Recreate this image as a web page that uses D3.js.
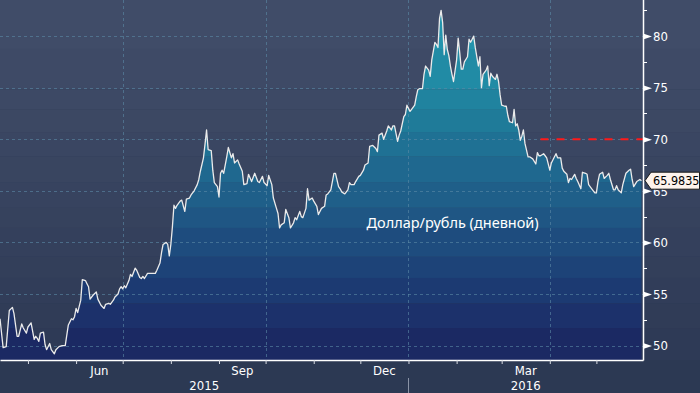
<!DOCTYPE html>
<html><head><meta charset="utf-8">
<script src="https://cdn.jsdelivr.net/npm/d3@7"></script>
<style>
html,body{margin:0;padding:0;background:#2c3953;}
svg{display:block;}
</style></head><body>
<svg id="chart" width="700" height="393"></svg>
<script>
// ---------- DATA ----------
const dates = [
"2015-04-13","2015-04-15","2015-04-17","2015-04-19","2015-04-21","2015-04-22","2015-04-24","2015-04-25","2015-04-27","2015-04-28",
"2015-04-30","2015-05-01","2015-05-03","2015-05-05","2015-05-06","2015-05-07","2015-05-08","2015-05-09","2015-05-11","2015-05-12",
"2015-05-13","2015-05-15","2015-05-16","2015-05-18","2015-05-19","2015-05-21","2015-05-23","2015-05-25","2015-05-27","2015-05-29",
"2015-05-30","2015-05-31","2015-06-01","2015-06-02","2015-06-04","2015-06-05","2015-06-07","2015-06-08","2015-06-09","2015-06-10",
"2015-06-12","2015-06-14","2015-06-15","2015-06-17","2015-06-19","2015-06-20","2015-06-22","2015-06-23","2015-06-25","2015-06-26",
"2015-06-28","2015-06-29","2015-06-30","2015-07-01","2015-07-02","2015-07-03","2015-07-05","2015-07-06","2015-07-07","2015-07-09",
"2015-07-10","2015-07-12","2015-07-13","2015-07-14","2015-07-15","2015-07-17","2015-07-19","2015-07-22","2015-07-23","2015-07-25",
"2015-07-26","2015-07-27","2015-07-29","2015-07-30","2015-07-31","2015-08-01","2015-08-02","2015-08-03","2015-08-04","2015-08-05",
"2015-08-07","2015-08-08","2015-08-10","2015-08-11","2015-08-13","2015-08-14","2015-08-16","2015-08-18","2015-08-19","2015-08-20",
"2015-08-22","2015-08-23","2015-08-24","2015-08-25","2015-08-27","2015-08-28","2015-08-29","2015-08-31","2015-09-01","2015-09-02",
"2015-09-03","2015-09-04","2015-09-06","2015-09-07","2015-09-09","2015-09-10","2015-09-11","2015-09-13","2015-09-14","2015-09-16",
"2015-09-17","2015-09-19","2015-09-20","2015-09-22","2015-09-24","2015-09-26","2015-09-27","2015-09-29","2015-09-30","2015-10-02",
"2015-10-03","2015-10-05","2015-10-06","2015-10-08","2015-10-09","2015-10-10","2015-10-11","2015-10-13","2015-10-14","2015-10-16",
"2015-10-17","2015-10-19","2015-10-20","2015-10-21","2015-10-23","2015-10-24","2015-10-25","2015-10-27","2015-10-28","2015-10-29",
"2015-10-31","2015-11-01","2015-11-03","2015-11-04","2015-11-06","2015-11-08","2015-11-09","2015-11-10","2015-11-12","2015-11-13",
"2015-11-14","2015-11-15","2015-11-17","2015-11-18","2015-11-19","2015-11-21","2015-11-23","2015-11-24","2015-11-25","2015-11-27",
"2015-11-28","2015-11-30","2015-12-01","2015-12-03","2015-12-04","2015-12-06","2015-12-07","2015-12-09","2015-12-11","2015-12-12",
"2015-12-13","2015-12-15","2015-12-16","2015-12-18","2015-12-19","2015-12-21","2015-12-22","2015-12-23","2015-12-25","2015-12-26",
"2015-12-27","2015-12-29","2015-12-30","2015-12-31","2016-01-02","2016-01-03","2016-01-05","2016-01-06","2016-01-07","2016-01-08",
"2016-01-10","2016-01-11","2016-01-12","2016-01-14","2016-01-15","2016-01-16","2016-01-18","2016-01-19","2016-01-20","2016-01-21",
"2016-01-22","2016-01-23","2016-01-24","2016-01-25","2016-01-26","2016-01-27","2016-01-28","2016-01-29","2016-01-30","2016-02-01",
"2016-02-02","2016-02-03","2016-02-04","2016-02-05","2016-02-06","2016-02-08","2016-02-09","2016-02-10","2016-02-11","2016-02-12",
"2016-02-13","2016-02-15","2016-02-16","2016-02-17","2016-02-18","2016-02-20","2016-02-21","2016-02-22","2016-02-23","2016-02-24",
"2016-02-26","2016-02-27","2016-02-28","2016-02-29","2016-03-01","2016-03-03","2016-03-04","2016-03-05","2016-03-06","2016-03-08",
"2016-03-09","2016-03-10","2016-03-11","2016-03-12","2016-03-13","2016-03-14","2016-03-15","2016-03-16","2016-03-18","2016-03-19",
"2016-03-21","2016-03-23","2016-03-24","2016-03-25","2016-03-26","2016-03-28","2016-03-29","2016-03-30","2016-04-01","2016-04-02",
"2016-04-04","2016-04-05","2016-04-06","2016-04-08","2016-04-09","2016-04-10","2016-04-12","2016-04-13","2016-04-14","2016-04-15",
"2016-04-17","2016-04-18","2016-04-19","2016-04-21","2016-04-22","2016-04-24","2016-04-25","2016-04-26","2016-04-28","2016-04-30",
"2016-05-01","2016-05-02","2016-05-03","2016-05-05","2016-05-06","2016-05-08","2016-05-09","2016-05-10","2016-05-12","2016-05-13",
"2016-05-14","2016-05-15","2016-05-17","2016-05-18","2016-05-20","2016-05-22","2016-05-23","2016-05-24","2016-05-25","2016-05-27",
"2016-05-29","2016-05-30"
];
const values = [
52.6,49.8,49.9,53.4,53.7,53.1,50.9,50.9,52.1,51.7,
51.2,51.8,52.2,50.6,50.9,50.7,50.4,51.2,51.3,50.1,
49.6,50.2,49.6,49.2,49.6,49.9,50.0,50.0,52.0,52.6,
52.5,52.8,53.6,53.2,54.4,56.4,56.3,56.0,55.7,54.5,
54.9,55.2,54.5,53.9,53.6,54.0,54.1,54.0,54.4,54.7,
55.0,55.5,55.7,55.5,55.8,55.6,56.3,56.9,56.7,57.5,
57.3,56.6,56.5,56.7,56.5,57.0,57.0,57.0,57.3,58.0,
59.0,59.8,60.0,59.8,58.7,59.8,61.5,63.6,63.3,63.6,
64.0,64.1,63.0,64.2,64.3,64.6,65.0,65.6,66.1,66.9,
68.2,69.5,70.9,69.0,68.9,67.0,65.8,65.4,64.4,66.7,
67.0,66.7,68.3,69.2,68.2,68.6,67.7,68.0,67.6,66.9,
65.6,65.7,66.6,65.9,66.7,65.9,65.8,66.4,65.8,65.5,
66.5,65.6,64.3,63.3,62.8,61.4,61.7,61.9,63.2,62.4,
61.4,61.9,62.4,62.2,63.0,62.5,62.4,63.3,65.2,64.1,
64.3,64.0,63.5,62.7,63.3,63.5,64.6,64.7,65.1,65.9,
66.7,66.7,65.4,65.2,64.9,64.7,65.1,65.8,65.6,65.6,
65.9,66.4,66.5,67.0,67.5,67.7,69.3,69.4,69.1,68.8,
70.4,70.6,70.0,70.8,71.3,70.9,71.3,71.3,69.8,70.4,
70.8,72.2,72.4,73.3,72.7,72.9,73.3,74.1,74.8,74.9,
74.9,76.3,77.1,76.7,76.1,77.7,79.4,79.2,78.9,81.7,
82.5,81.3,78.2,80.1,78.7,78.1,77.1,76.3,75.6,77.7,
79.8,78.4,76.8,76.8,77.5,78.0,79.7,79.4,79.7,80.0,
78.9,77.1,78.0,75.0,76.3,76.7,77.1,75.2,76.4,76.1,
75.8,76.3,75.6,74.3,73.3,73.2,73.2,72.3,71.7,71.6,
72.9,71.3,71.5,70.9,69.9,70.3,70.9,69.6,68.3,68.3,
68.1,67.6,68.7,68.4,68.4,68.6,68.4,68.2,67.0,67.7,
68.3,68.6,68.2,68.2,67.2,66.9,66.6,65.8,66.2,66.1,
66.6,66.2,65.9,65.2,66.8,66.7,66.6,65.6,65.2,64.8,
64.8,65.9,66.6,66.8,66.2,66.5,66.7,66.1,65.1,65.1,
65.5,65.1,64.8,65.6,66.7,67.0,67.1,66.1,65.4,65.9,
66.1,65.9835
];
const yTicks = [50, 55, 60, 65, 70, 75, 80];
const yMinorTicks = [52.5, 57.5, 62.5, 67.5, 72.5, 77.5, 82.5];
const monthLabelDates = ["2015-06-01", "2015-09-01", "2015-12-01", "2016-03-01"];
const monthLabelNames = ["Jun", "Sep", "Dec", "Mar"];
const yearLabels = ["2015", "2016"];
const gridDates = ["2015-07-01", "2015-10-01", "2016-01-01", "2016-04-01"];
const lastValueText = "65.9835";
const refLevel = 70;
const refStartDate = "2016-03-26";
const seriesTitle = "Доллар/рубль (дневной)";

// ---------- STYLE ----------
const W = 700, H = 393, PW = 643, PH = 360;
const bandLevels = [78.75, 74.8, 72.85, 70.7, 68.3, 65.85, 63.35, 61.4, 58.6, 56.55, 54.1, 51.7];
const areaColors = ["#2393ac","#218ba5","#20839f","#1f7b99","#1f7194","#1f688f","#1f5f89","#1f5684","#1e4c7e","#1d4378","#1c3a72","#1c316b","#1b2963"];
const bgColors = ["#404c68","#3e4a66","#3d4965","#3c4863","#3a4662","#394560","#37435f","#36425d","#34405c","#333f5a","#313d59","#303c57","#2e3a56"];
const TICK_FONT = "'Liberation Sans Narrow','DejaVu Sans Condensed',sans-serif";

const parse = d3.timeParse("%Y-%m-%d");
const data = dates.map((d, i) => ({ date: parse(d), value: values[i] }));

const svg = d3.select("#chart");
const x = d3.scaleTime().domain([parse("2015-04-13"), parse("2016-05-31")]).range([0, PW]);
const y = d3.scaleLinear().domain([48.6, 83.5]).range([PH, 0]);

// background
svg.append("rect").attr("width", W).attr("height", H).attr("fill", "#2c3953");
const edges = [y.domain()[1], ...bandLevels, y.domain()[0]];
const bands = d3.range(edges.length - 1).map(i => ({ top: edges[i], bot: edges[i + 1], i }));
svg.append("g").selectAll("rect").data(bands).join("rect")
  .attr("x", 0).attr("width", W)
  .attr("y", d => y(d.top)).attr("height", d => y(d.bot) - y(d.top))
  .attr("fill", d => bgColors[d.i]);

// area with banded fill
const area = d3.area().x(d => x(d.date)).y0(PH).y1(d => y(d.value));
svg.append("clipPath").attr("id", "areaClip").append("path").datum(data).attr("d", area);
svg.append("g").attr("clip-path", "url(#areaClip)").selectAll("rect").data(bands).join("rect")
  .attr("x", 0).attr("width", PW)
  .attr("y", d => y(d.top)).attr("height", d => y(d.bot) - y(d.top))
  .attr("fill", d => areaColors[d.i]);

// grid
const grid = svg.append("g").attr("stroke", "#5b8aa6").attr("stroke-opacity", 0.6)
  .attr("stroke-dasharray", "3,3").attr("stroke-width", 1);
grid.selectAll("line.h").data(yTicks).join("line").attr("class", "h")
  .attr("x1", 0).attr("x2", PW).attr("y1", d => Math.round(y(d)) + 0.5).attr("y2", d => Math.round(y(d)) + 0.5);
grid.selectAll("line.v").data(gridDates.map(parse)).join("line").attr("class", "v")
  .attr("y1", 0).attr("y2", PH).attr("x1", d => Math.round(x(d)) + 0.5).attr("x2", d => Math.round(x(d)) + 0.5);

// line
svg.append("path").datum(data)
  .attr("fill", "none").attr("stroke", "#ebebeb").attr("stroke-width", 1.3).attr("stroke-linejoin", "round")
  .attr("d", d3.line().x(d => x(d.date)).y(d => y(d.value)));

// reference line
svg.append("line")
  .attr("x1", x(parse(refStartDate))).attr("x2", PW)
  .attr("y1", y(refLevel)).attr("y2", y(refLevel))
  .attr("stroke", "#ff1a1a").attr("stroke-width", 2).attr("stroke-dasharray", "8,8");

// series title
svg.append("text").attr("x", x(parse("2015-12-05"))).attr("y", 228)
  .attr("fill", "#ffffff").attr("font-family", "'Noto Sans',sans-serif").attr("font-size", 14.5)
  .text(seriesTitle);

// bottom axis
const xAxis = d3.axisBottom(x).ticks(d3.timeMonth.every(1)).tickSize(4).tickSizeOuter(0).tickFormat("");
const gx = svg.append("g").attr("transform", `translate(0,${PH})`).call(xAxis);
gx.select(".domain").attr("stroke", "#ffffff").attr("stroke-width", 1.5);
gx.selectAll(".tick line").attr("stroke", "#d8dbe2");

svg.append("g").selectAll("text").data(monthLabelDates).join("text")
  .attr("x", d => { const s = parse(d); return (x(s) + x(d3.timeMonth.offset(s, 1))) / 2; })
  .attr("y", 375).attr("text-anchor", "middle")
  .attr("fill", "#ffffff").attr("font-family", TICK_FONT).attr("font-size", 13)
  .text((d, i) => monthLabelNames[i]);

const yearStart = parse("2016-01-01");
svg.append("g").selectAll("text").data(yearLabels).join("text")
  .attr("x", (d, i) => i === 0 ? x(yearStart) / 2 : (x(yearStart) + PW) / 2)
  .attr("y", 390).attr("text-anchor", "middle")
  .attr("fill", "#ffffff").attr("font-family", TICK_FONT).attr("font-size", 13)
  .text(d => d);
svg.append("line").attr("x1", Math.round(x(yearStart)) + 0.5).attr("x2", Math.round(x(yearStart)) + 0.5)
  .attr("y1", 378).attr("y2", H).attr("stroke", "#8a93a6").attr("stroke-width", 1);

// right axis
const yAxis = d3.axisRight(y).tickValues(yTicks).tickSize(0).tickPadding(10).tickFormat(d3.format("d"));
const gy = svg.append("g").attr("transform", `translate(${PW},0)`).call(yAxis);
gy.select(".domain").remove();
gy.selectAll(".tick text").attr("fill", "#ffffff").attr("font-family", TICK_FONT).attr("font-size", 13);
gy.selectAll(".tick").append("path").attr("d", "M0,-3L9,0L0,3Z").attr("fill", "#ffffff");
svg.append("g").selectAll("line").data(yMinorTicks).join("line")
  .attr("x1", PW).attr("x2", PW + 4).attr("y1", d => Math.round(y(d)) + 0.5).attr("y2", d => Math.round(y(d)) + 0.5)
  .attr("stroke", "#ffffff");
svg.append("line").attr("x1", PW + 0.5).attr("x2", PW + 0.5).attr("y1", 0).attr("y2", PH + 0.5)
  .attr("stroke", "#ffffff").attr("stroke-width", 1.5);

// last value callout
const ly = y(values[values.length - 1]);
const callout = svg.append("g").attr("transform", `translate(${PW + 2},${ly})`);
callout.append("path").attr("d", "M0,0L6,-8.5L54.5,-8.5L54.5,8.5L6,8.5Z")
  .attr("fill", "#fdf3ec").attr("stroke", "#1a1a1a").attr("stroke-width", 1);
callout.append("text").attr("x", 8).attr("y", 4.5)
  .attr("fill", "#000000").attr("font-family", TICK_FONT).attr("font-size", 12.5)
  .text(lastValueText);
</script>
</body></html>
